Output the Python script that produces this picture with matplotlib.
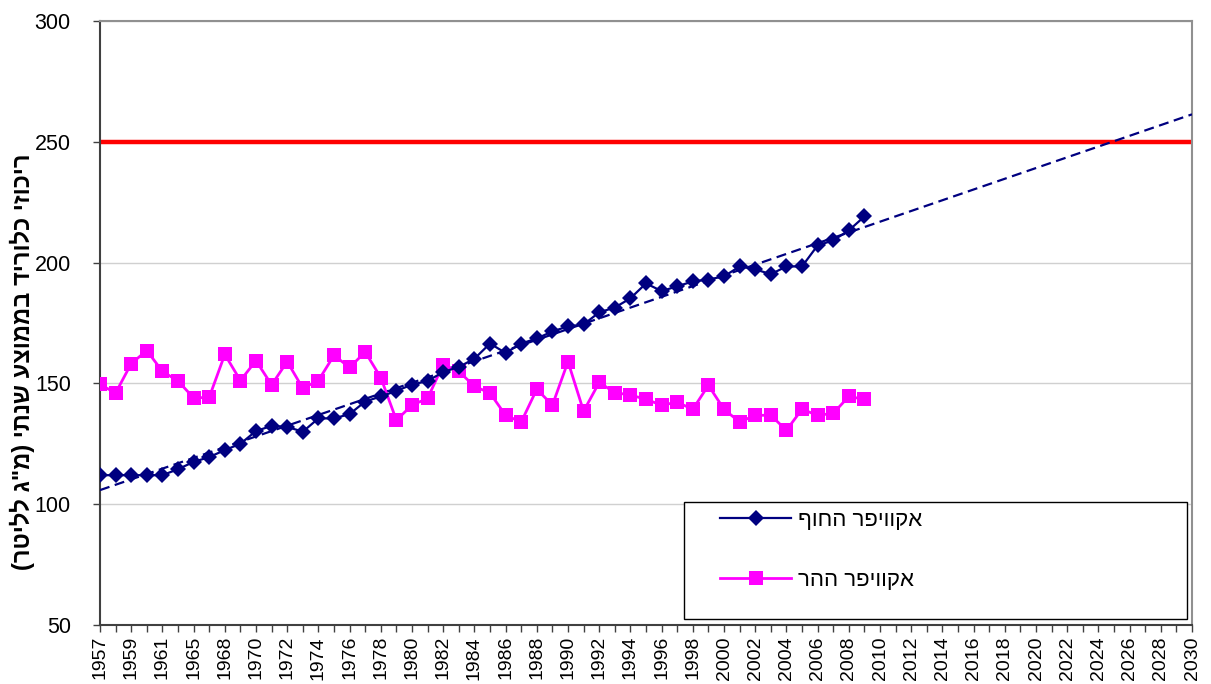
import numpy as np
import matplotlib
matplotlib.use("Agg")
import matplotlib.pyplot as plt
from matplotlib.patches import Rectangle

plt.rcParams['font.family'] = ['Liberation Sans', 'DejaVu Sans']

years = [1957, 1958, 1959, 1960, 1961, 1963, 1965, 1966] + list(range(1968, 2031))

coastal = [112, 112, 112, 112, 112, 114.5, 117.5, 119.5, 122.4, 125,
           130.3, 132.4, 132, 130, 135.5, 135.5, 137.3, 142.5, 144.6, 146.9,
           149.5, 151, 154.7, 156.8, 160.2, 166.5, 162.6, 166.5, 168.6, 171.5,
           173.6, 174.4, 179.4, 181.4, 185.2, 191.4, 188.2, 190.2, 192.2, 193,
           194.3, 198.4, 197.2, 195.2, 198.4, 198.4, 207.1, 209.2, 213.3, 219.1]

mountain = [149.6, 146, 158.2, 163.6, 155, 151, 144, 144.2, 162, 151.2,
            159.4, 149.4, 159, 148, 151.2, 161.6, 156.6, 163, 152.4, 134.8,
            141, 143.8, 157.8, 155, 148.8, 146, 136.8, 134, 147.6, 141,
            159, 138.5, 150.4, 146.2, 145.2, 143.4, 141, 142.2, 139.3, 149.2,
            139.3, 134, 136.8, 136.8, 130.6, 139.3, 136.8, 137.6, 144.6, 143.4]

limit = 250

label_coastal = 'ףוחה רפיווקא'   # אקוויפר החוף (visual order)
label_mountain = 'רהה רפיווקא'   # אקוויפר ההר (visual order)
ylabel = '(רטילל ג"מ) יתנש עצוממב דירולכ יזוכיר'

fig = plt.figure(figsize=(12.11, 6.84), dpi=100)
ax = fig.add_axes([100/1211, 1-625/684, 1092/1211, 604/684])

n = len(years)
idx = np.arange(n)
xc = np.arange(len(coastal))
xm = np.arange(len(mountain))

ax.set_xlim(0, n-1)
ax.set_ylim(50, 300)

ax.set_yticks([50, 100, 150, 200, 250, 300])
ax.yaxis.grid(True, color='#D0D0D0', linewidth=1.0)
ax.set_axisbelow(True)

ax.axhline(limit, color='#FF0000', linewidth=3.2, zorder=2)

# linear trend of coastal aquifer, extended to the last category
coef = np.polyfit(xc, coastal, 1)
ax.plot(idx, np.polyval(coef, idx), color='#000080', linewidth=1.6,
        linestyle=(0, (4.5, 2.5)), zorder=3)

ax.plot(xm, mountain, color='#FF00FF', linewidth=2.0, marker='s',
        markersize=10.5, markeredgewidth=0, zorder=4, label=label_mountain)
ax.plot(xc, coastal, color='#000080', linewidth=1.6, marker='D',
        markersize=8.0, markeredgewidth=0, zorder=5, label=label_coastal)

ax.set_xticks(idx)
ax.set_xticklabels([str(y) if i % 2 == 0 else '' for i, y in enumerate(years)],
                   rotation=90, fontsize=14)
ax.tick_params(axis='x', length=5, width=1, color='#404040', pad=3)
ax.tick_params(axis='y', length=5, width=1, color='#404040', labelsize=15.5, pad=16)

for s in ['top', 'right']:
    ax.spines[s].set_color('#909090')
    ax.spines[s].set_linewidth(1.5)
for s in ['left', 'bottom']:
    ax.spines[s].set_color('#404040')
    ax.spines[s].set_linewidth(1.5)

ax.set_ylabel(ylabel, fontsize=17, fontweight='bold', va='center')
ax.yaxis.set_label_coords((22-100)/1092, (625-362)/604)

# legend box
x0 = (684-100)/1092
y0 = (625-619)/604
w = (1187-684)/1092
h = (619-502)/604
ax.add_patch(Rectangle((x0, y0), w, h, transform=ax.transAxes,
                       facecolor='white', edgecolor='black', linewidth=1.0,
                       zorder=6))
handles, labels = ax.get_legend_handles_labels()
leg = ax.legend([handles[1], handles[0]], [labels[1], labels[0]],
                loc='upper left',
                bbox_to_anchor=((720-100)/1092, (625-510)/604),
                frameon=False, fontsize=16, handlelength=3.2,
                handletextpad=0.3, labelspacing=1.75, borderpad=0,
                borderaxespad=0)
leg.set_zorder(7)

fig.savefig('out.png', dpi=100)
